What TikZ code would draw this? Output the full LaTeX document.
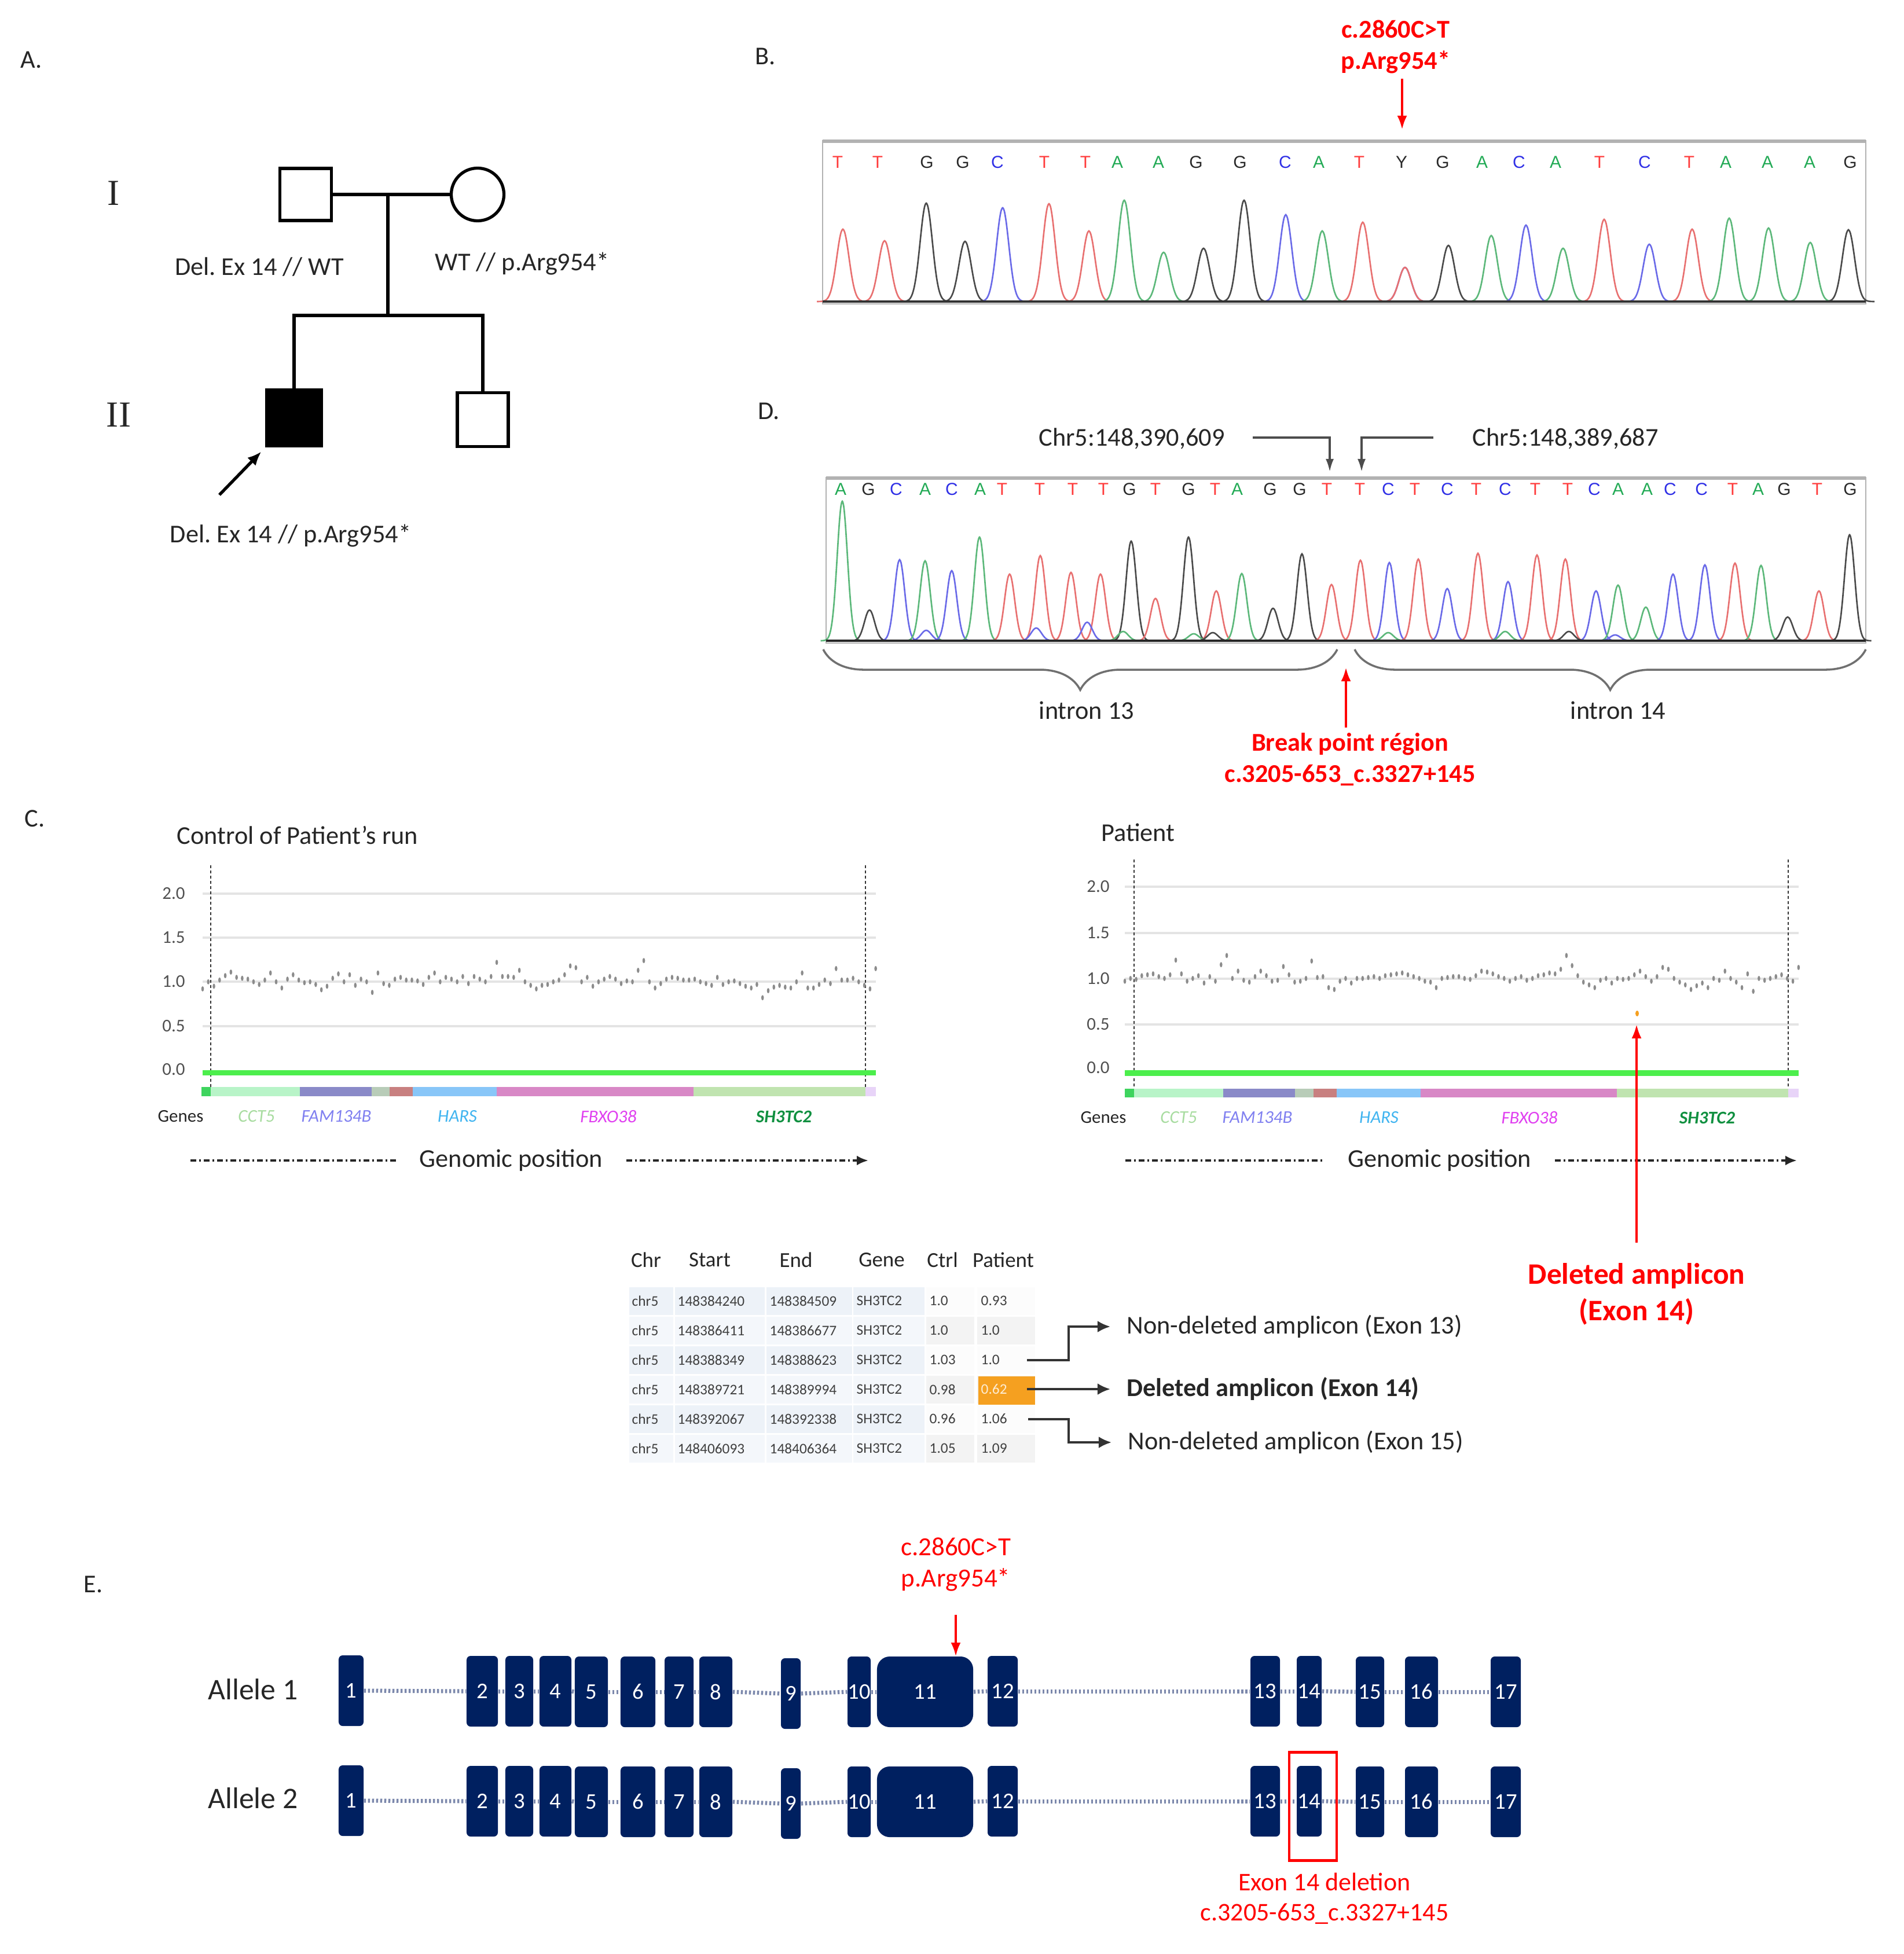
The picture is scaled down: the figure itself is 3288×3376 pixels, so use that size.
\documentclass[tikz,border=0pt]{standalone}
\usepackage{fontspec}
\setmainfont{Carlito}
\newfontfamily\serifR{Liberation Serif}
\newfontfamily\arialF{Liberation Sans}
\usetikzlibrary{arrows.meta,decorations.pathreplacing}
\frenchspacing
\definecolor{txt}{HTML}{262626}
\definecolor{navy}{HTML}{002060}
\definecolor{intronc}{HTML}{7C88AC}
\definecolor{trR}{HTML}{E87070}
\definecolor{trK}{HTML}{4A4A4A}
\definecolor{trB}{HTML}{6A6AE8}
\definecolor{trG}{HTML}{5CB87A}
\definecolor{ltR}{HTML}{FF3B3B}
\definecolor{ltK}{HTML}{2A2A2A}
\definecolor{ltB}{HTML}{3030E6}
\definecolor{ltG}{HTML}{22AA55}
\definecolor{gridc}{HTML}{E4E4E4}
\definecolor{greenbar}{HTML}{4CEE4C}
\definecolor{ptc}{HTML}{8C8C8C}
\definecolor{gDk}{HTML}{3ED45E}
\definecolor{gLg}{HTML}{B8F4C8}
\definecolor{gPu}{HTML}{8A8AC8}
\definecolor{gGg}{HTML}{B8CCB8}
\definecolor{gRb}{HTML}{C88080}
\definecolor{gLb}{HTML}{88C6F8}
\definecolor{gPk}{HTML}{D888C6}
\definecolor{gSg}{HTML}{C0E4B0}
\definecolor{gLv}{HTML}{E8D4F8}
\definecolor{nCC}{HTML}{A8DCA0}
\definecolor{nFA}{HTML}{8080F0}
\definecolor{nHA}{HTML}{40B4F0}
\definecolor{nFB}{HTML}{E040F0}
\definecolor{nSH}{HTML}{109040}
\definecolor{tbA}{HTML}{EDF2F8}
\definecolor{tbB}{HTML}{F4F7FB}
\definecolor{tbC}{HTML}{FCFCFC}
\definecolor{tbD}{HTML}{F3F3F3}
\definecolor{orng}{HTML}{F5A020}
\definecolor{brc}{HTML}{707070}
\definecolor{tick}{HTML}{505050}

\newcommand\pk[5]{%
  \pgfmathsetmacro\myPa{#1-3*#4}%
  \pgfmathsetmacro\myPb{#1+3*#4}%
  \draw[color=#5,trace] plot[domain=\myPa:\myPb,samples=31,smooth] (\x,{#2-#3*exp(-(((\x-#1)/#4)^2))});}

\tikzset{
  every node/.style={inner sep=0pt,text=txt},
  lbl/.style={font=\fontsize{12.6}{15.4}\selectfont},
  lblb/.style={font=\bfseries\fontsize{12.6}{15.4}\selectfont},
  redbold/.style={font=\bfseries\fontsize{12.6}{15.5}\selectfont,text=red,align=center},
  redreg/.style={font=\fontsize{12.8}{15.2}\selectfont,text=red,align=center},
  redbig/.style={font=\bfseries\fontsize{14.6}{17.8}\selectfont,text=red,align=center},
  roman/.style={font=\serifR\fontsize{18}{20}\selectfont},
  ped/.style={draw=black,line width=1.5pt,minimum width=0.89cm,minimum height=0.9cm},
  pedline/.style={line width=1.5pt},
  trace/.style={line width=0.75pt},
  base/.style={font=\arialF\fontsize{8.5}{9}\selectfont},
  darr/.style={draw=black!70,line width=0.9pt,-{Latex[length=0.22cm,width=0.14cm]}},
  redarrow/.style={draw=red,line width=1.2pt,-{Latex[length=0.24cm,width=0.17cm]}},
  brc/.style={draw=brc,line width=1pt,decorate,decoration={brace,mirror,amplitude=0.7cm}},
  ytk/.style={font=\fontsize{8.8}{10}\selectfont,text=tick},
  gene/.style={font=\itshape\fontsize{8.8}{10}\selectfont},
  grid line/.style={draw=gridc,line width=1pt},
  vdash/.style={draw=black!80,line width=0.6pt,dash pattern=on 0.05cm off 0.04cm},
  gpos/.style={draw=black!85,line width=1.1pt,dash pattern=on 0.1cm off 0.05cm on 0.03cm off 0.05cm},
  th/.style={font=\fontsize{10.5}{12}\selectfont},
  td/.style={font=\fontsize{7.2}{8}\selectfont,text=black!75,anchor=west},
  conn/.style={draw=black!80,line width=1pt,-{Latex[length=0.22cm,width=0.2cm]},shorten >=0.28cm},
  exon/.style={fill=navy,text=white,font=\fontsize{11}{12}\selectfont},
  intron/.style={draw=intronc,line width=2pt,dash pattern=on 0.035cm off 0.035cm},
  allele/.style={font=\fontsize{14.7}{16}\selectfont},
}

\begin{document}
\begin{tikzpicture}[x=0.01cm,y=-0.01cm]
\fill[white] (0,0) rectangle (3288,3376);
\useasboundingbox (0,0) rectangle (3288,3376);

%% ---------------- Panel A : pedigree
\node[lbl] (lA) at (54,103) {A.};
\node[roman] (gI) at (196,334) {I};
\node[roman] (gII) at (205,717) {II};
\node[ped] (fa) at (528,336) {};
\node[ped,circle,minimum size=0.91cm] (mo) at (825,336) {};
\node[ped,fill=black,minimum width=0.94cm,minimum height=0.97cm] (c1) at (508,722) {};
\node[ped,minimum width=0.88cm,minimum height=0.93cm] (c2) at (834,725) {};
\coordinate (mar) at (670,336);
\coordinate (sib) at (670,545);
\draw[pedline] (fa.east) -- (mo.west);
\draw[pedline] (mar) -- (sib);
\draw[pedline] (c1.north) |- (sib) -| (c2.north);
\coordinate (pa) at (379,855);
\draw[line width=1.5pt,-{Latex[length=0.24cm,width=0.2cm]},shorten >=0.1cm] (pa) -- (c1.south west);
\node[lbl] (gFa) at (448,461) {Del. Ex 14 // WT};
\node[lbl] (gMo) at (902,456) {WT // p.Arg954*};
\node[lbl] (gC1) at (502,926) {Del. Ex 14 // p.Arg954*};

%% ---------------- Panel B : chromatogram
\node[lbl] (lB) at (1322,97) {B.};
\node[redbold] (mutB) at (2411,81) {c.2860C>T\\p.Arg954*};
\coordinate (bA) at (2422,136);
\coordinate (bB) at (2422,224);
\draw[redarrow] (bA) -- (bB);
\draw[gray!60,line width=0.6pt] (1421,243) rectangle (3223,525);
\draw[gray!60,line width=1.6pt] (1421,244) -- (3223,244);
\foreach \lx/\lt/\lc in {1447/T/ltR,1516/T/ltR,1601/G/ltK,1663/G/ltK,1723/C/ltB,1804/T/ltR,1875/T/ltR,1930/A/ltG,2001/A/ltG,2066/G/ltK,2142/G/ltK,2220/C/ltB,2278/A/ltG,2348/T/ltR,2421/Y/ltK,2492/G/ltK,2560/A/ltG,2624/C/ltB,2687/A/ltG,2763/T/ltR,2841/C/ltB,2918/T/ltR,2981/A/ltG,3053/A/ltG,3126/A/ltG,3196/G/ltK}
  \node[base,text=\lc] (b\lx) at (\lx,280) {\lt};
\foreach \px/\ph/\pc in {1456/125/trR,1528/105/trR,1600/170/trK,1667/104/trK,1732/162/trB,1812/169/trR,1881/122/trR,1942/175/trG,2010/85/trG,2079/92/trK,2149/175/trK,2221/150/trB,2284/122/trG,2354/137/trR,2427/59/trB,2427/59/trR,2502/97/trK,2576/114/trG,2636/132/trB,2700/92/trG,2771/142/trR,2849/99/trB,2923/125/trR,2987/144/trG,3055/127/trG,3127/102/trG,3193/124/trK}
  \pk{\px}{521}{\ph}{15}{\pc};
\draw[black!80,line width=1.3pt] (1421,521) -- (3223,521);

%% ---------------- Panel D : breakpoint chromatogram
\node[lbl] (lD) at (1328,710) {D.};
\node[lbl] (chrL) at (1955,758) {Chr5:148,390,609};
\node[lbl] (chrR) at (2704,758) {Chr5:148,389,687};
\coordinate (dL0) at (2164,756);
\coordinate (dL1) at (2297,815);
\coordinate (dR0) at (2476,756);
\coordinate (dR1) at (2352,815);
\draw[darr] (dL0) -| (dL1);
\draw[darr] (dR0) -| (dR1);
\draw[gray!60,line width=0.6pt] (1427,825) rectangle (3223,1111);
\draw[gray!60,line width=1.6pt] (1427,826) -- (3223,826);
\foreach \lx/\lt/\lc in {1452/A/ltG,1500/G/ltK,1548/C/ltB,1598/A/ltG,1644/C/ltB,1693/A/ltG,1731/T/ltR,1796/T/ltR,1853/T/ltR,1906/T/ltR,1951/G/ltK,1996/T/ltR,2053/G/ltK,2099/T/ltR,2137/A/ltG,2194/G/ltK,2245/G/ltK,2292/T/ltR,2349/T/ltR,2398/C/ltB,2444/T/ltR,2500/C/ltB,2550/T/ltR,2600/C/ltB,2652/T/ltR,2708/T/ltR,2754/C/ltB,2795/A/ltG,2845/A/ltG,2885/C/ltB,2939/C/ltB,2993/T/ltR,3037/A/ltG,3082/G/ltK,3139/T/ltR,3196/G/ltK}
  \node[base,text=\lc] (d\lx) at (\lx,845) {\lt};
\foreach \px/\ph/\pc in {1455/241/trG,1502/53/trK,1554/140/trB,1598/138/trG,1644/121/trB,1692/179/trG,1744/115/trR,1797/147/trR,1850/118/trR,1901/115/trR,1954/172/trK,1996/73/trR,2053/179/trK,2101/86/trR,2145/116/trG,2199/56/trK,2249/150/trK,2300/97/trR,2350/139/trR,2400/135/trB,2450/141/trR,2500/90/trB,2553/151/trR,2605/102/trB,2655/148/trR,2704/141/trR,2757/86/trB,2795/96/trG,2843/58/trG,2890/115/trB,2945/131/trB,2997/134/trR,3042/130/trG,3088/41/trK,3142/86/trR,3195/183/trK,1600/18/trB,1790/22/trB,1878/32/trB,1940/16/trG,2062/12/trG,2095/14/trK,2398/14/trG,2600/16/trG,2710/16/trK,2790/10/trB}
  \pk{\px}{1107}{\ph}{12.5}{\pc};
\draw[black!85,line width=1.3pt] (1427,1107) -- (3223,1107);
\draw[brc] (1422,1122) -- (2310,1122);
\draw[brc] (2340,1122) -- (3223,1122);
\node[lbl] (in13) at (1877,1227) {intron 13};
\node[lbl] (in14) at (2795,1227) {intron 14};
\coordinate (bpA) at (2325,1257);
\coordinate (bpB) at (2325,1153);
\draw[redarrow] (bpA) -- (bpB);
\node[redbold] (bpT) at (2332,1312) {Break point région\\c.3205-653\_c.3327+145};

%% ---------------- Panel C : plots
\node[lbl] (lC) at (60,1414) {C.};
\node[lbl] (tCtl) at (514,1443) {Control of Patient’s run};
\node[lbl] (tPat) at (1966,1438) {Patient};

% control plot
\foreach \v/\yy in {2.0/1544,1.5/1620,1.0/1696,0.5/1773} {
  \draw[grid line] (350,\yy) -- (1513,\yy);
  \node[ytk] (yc\v) at (300,\yy) {\v};
}
\node[ytk] (yc0) at (300,1848) {0.0};
\draw[vdash] (364,1495) -- (364,1894);
\draw[vdash] (1495,1495) -- (1495,1894);
\foreach \v [count=\i from 0] in {0.92,1.0,0.95,1.02,1.07,1.11,1.05,1.04,1.03,1.0,0.97,1.02,1.1,1.0,0.93,1.03,1.08,1.02,0.99,1.0,0.97,0.91,0.95,1.04,1.09,1.0,1.08,0.96,1.03,1.0,0.88,1.1,0.98,0.96,1.03,1.05,1.02,1.02,1.01,0.97,1.05,1.1,1.0,1.05,1.03,1.0,1.06,0.98,1.06,1.03,1.0,1.06,1.22,1.06,1.06,1.05,1.13,1.0,0.96,0.92,0.96,0.97,1.0,1.02,1.08,1.18,1.16,1.0,1.05,0.95,1.0,1.03,1.06,1.03,0.98,1.01,1.0,1.13,1.24,1.0,0.93,0.98,1.03,1.05,1.04,1.02,1.02,1.03,1.0,0.98,0.96,1.05,0.97,1.0,1.01,0.98,0.95,0.93,0.97,0.82,0.9,0.94,0.96,0.94,0.93,1.0,1.1,0.93,0.93,0.97,1.02,0.98,1.15,1.02,1.02,1.04,1.0,0.96,0.92,1.15}
  \fill[ptc] ({350+\i*9.77},{1849-152.7*\v}) ellipse [x radius=2.3,y radius=4.5];
\fill[greenbar] (350,1849) rectangle (1513,1858);
\foreach \a/\b/\c in {348/364/gDk,364/518/gLg,518/642/gPu,642/673/gGg,673/713/gRb,713/858/gLb,858/1198/gPk,1198/1495/gSg,1495/1513/gLv}
  \fill[\c] (\a,1878) rectangle (\b,1894);
\node[font=\fontsize{8.8}{10}\selectfont] (gnC) at (312,1929) {Genes};
\node[gene,text=nCC] (g1C) at (443,1929) {CCT5};
\node[gene,text=nFA] (g2C) at (581,1929) {FAM134B};
\node[gene,text=nHA] (g3C) at (790,1929) {HARS};
\node[gene,text=nFB] (g4C) at (1051,1929) {FBXO38};
\node[gene,text=nSH,font=\bfseries\itshape\fontsize{8.8}{10}\selectfont] (g5C) at (1354,1929) {SH3TC2};
\node[lbl] (gpC) at (883,2005) {Genomic position};
\coordinate (gpC0) at (329,2005);
\coordinate (gpC1) at (1500,2005);
\draw[gpos] (gpC0) -- ([xshift=-0.4cm]gpC.west);
\draw[gpos,-{Latex[length=0.2cm,width=0.17cm]}] ([xshift=0.4cm]gpC.east) -- (gpC1);

% patient plot
\foreach \v/\yy in {2.0/1532,1.5/1612,1.0/1691,0.5/1770} {
  \draw[grid line] (1943,\yy) -- (3107,\yy);
  \node[ytk] (yp\v) at (1897,\yy) {\v};
}
\node[ytk] (yp0) at (1897,1845) {0.0};
\draw[vdash] (1959,1485) -- (1959,1896);
\draw[vdash] (3089,1485) -- (3089,1896);
\foreach \v [count=\i from 0] in {0.97,1.0,0.99,1.03,1.04,1.05,1.02,1.0,1.04,1.2,1.05,0.97,1.0,1.03,0.95,1.02,0.97,1.15,1.25,1.0,1.08,0.98,0.96,1.02,1.08,1.03,0.97,0.98,1.13,1.04,0.96,0.97,1.0,1.19,1.01,1.02,0.9,0.88,0.97,1.0,0.95,1.0,1.0,1.01,1.02,1.0,1.03,1.04,1.05,1.06,1.04,1.02,1.0,0.97,0.96,0.9,1.0,1.01,1.02,1.02,1.0,0.99,1.03,1.08,1.07,1.05,1.02,1.0,0.97,1.0,1.02,0.98,1.0,1.03,1.04,1.06,1.05,1.1,1.25,1.14,1.03,0.96,0.93,0.9,0.98,1.0,0.95,1.0,0.99,1.0,1.04,1.08,1.02,0.97,1.02,1.12,1.1,1.0,0.96,0.93,0.88,0.92,0.95,0.9,1.0,0.98,1.08,1.0,0.96,0.9,1.05,0.86,1.0,0.98,1.0,1.02,1.04,1.0,0.97,1.12}
  \fill[ptc] ({1943+\i*9.78},{1849-158.5*\v}) ellipse [x radius=2.3,y radius=4.5];
\fill[orng] (2828,1751) ellipse [x radius=3,y radius=5];
\fill[greenbar] (1943,1849) rectangle (3107,1859);
\foreach \a/\b/\c in {1943/1959/gDk,1959/2113/gLg,2113/2237/gPu,2237/2269/gGg,2269/2309/gRb,2309/2454/gLb,2454/2793/gPk,2793/3089/gSg,3089/3107/gLv}
  \fill[\c] (\a,1881) rectangle (\b,1896);
\node[font=\fontsize{8.8}{10}\selectfont] (gnP) at (1906,1931) {Genes};
\node[gene,text=nCC] (g1P) at (2036,1931) {CCT5};
\node[gene,text=nFA] (g2P) at (2172,1931) {FAM134B};
\node[gene,text=nHA] (g3P) at (2382,1931) {HARS};
\node[gene,text=nFB] (g4P) at (2642,1931) {FBXO38};
\node[gene,text=nSH,font=\bfseries\itshape\fontsize{8.8}{10}\selectfont] (g5P) at (2949,1931) {SH3TC2};
\node[lbl] (gpP) at (2487,2005) {Genomic position};
\coordinate (gpP0) at (1944,2005);
\coordinate (gpP1) at (3104,2005);
\draw[gpos] (gpP0) -- ([xshift=-0.4cm]gpP.west);
\draw[gpos,-{Latex[length=0.2cm,width=0.17cm]}] ([xshift=0.4cm]gpP.east) -- (gpP1);

\node[redbig] (delAmp) at (2827,2236) {Deleted amplicon\\(Exon 14)};
\coordinate (daA) at (2827,2147);
\coordinate (daB) at (2827,1770);
\draw[draw=red,line width=1pt,-{Latex[length=0.24cm,width=0.17cm]}] (daA) -- (daB);

%% ---------------- table
\node[th] (hChr) at (1116,2177) {Chr};
\node[th] (hSt) at (1226,2177) {Start};
\node[th] (hEn) at (1375,2177) {End};
\node[th] (hGe) at (1523,2177) {Gene};
\node[th] (hCt) at (1628,2177) {Ctrl};
\node[th] (hPa) at (1733,2177) {Patient};
\foreach \r in {1,...,6} {
  \pgfmathsetmacro\ya{2222+51*(\r-1)+1.5}
  \pgfmathsetmacro\yb{2222+51*\r-1.5}
  \pgfmathtruncatemacro\odd{mod(\r,2)}
  \ifnum\odd=1 \def\ca{tbA}\def\cb{tbC}\else\def\ca{tbB}\def\cb{tbD}\fi
  \foreach \xa/\xb in {1087/1163,1166/1321,1324/1472,1474/1597}
    \fill[\ca] (\xa,\ya) rectangle (\xb,\yb);
  \foreach \xa/\xb in {1600/1683,1688/1788}
    \fill[\cb] (\xa,\ya) rectangle (\xb,\yb);
}
\fill[orng] (1690,2378) rectangle (1788,2427);
\foreach \r/\s/\e/\vc/\vp/\pc in {1/148384240/148384509/1.0/0.93/black!75,2/148386411/148386677/1.0/1.0/black!75,3/148388349/148388623/1.03/1.0/black!75,4/148389721/148389994/0.98/0.62/white!80!orng,5/148392067/148392338/0.96/1.06/black!75,6/148406093/148406364/1.05/1.09/black!75} {
  \pgfmathsetmacro\yc{2222+51*\r-25.5}
  \node[td] (t\r-1) at (1091,\yc) {chr5};
  \node[td] (t\r-2) at (1170,\yc) {\s};
  \node[td] (t\r-3) at (1329,\yc) {\e};
  \node[td] (t\r-4) at (1479,\yc) {SH3TC2};
  \node[td] (t\r-5) at (1605,\yc) {\vc};
  \node[td,text=\pc] (t\r-6) at (1694,\yc) {\vp};
}
\coordinate (t3e) at (1774,2350);
\coordinate (t4e) at (1774,2400);
\coordinate (t5e) at (1776,2452);
\node[lbl,anchor=west] (n13) at (1946,2292) {Non-deleted amplicon (Exon 13)};
\node[lblb,anchor=west] (n14) at (1946,2400) {Deleted amplicon (Exon 14)};
\node[lbl,anchor=west] (n15) at (1948,2492) {Non-deleted amplicon (Exon 15)};
\draw[conn] (t3e) -- ++(72,0) |- (n13.west);
\draw[conn] (t4e) -- (n14.west);
\draw[conn] (t5e) -- ++(70,0) |- (n15.west);

%% ---------------- Panel E : gene structure
\node[lbl] (lE) at (161,2737) {E.};
\node[redreg] (mutE) at (1651,2703) {c.2860C>T\\p.Arg954*};
\node[allele] (al1) at (437,2919) {Allele 1};
\node[allele] (al2) at (437,3107) {Allele 2};
\foreach \n/\a/\b/\dy/\rr in {1/585/628/0/0.07,2/806/860/1/0.07,3/873/921/1/0.07,4/932/987/1/0.07,5/993/1050/2/0.07,6/1072/1132/2/0.07,7/1148/1198/2/0.07,8/1208/1265/2/0.07,9/1349/1383/5/0.07,10/1464/1504/2/0.07,11/1515/1681/2/0.22,12/1706/1758/1/0.07,13/2160/2211/1/0.07,14/2240/2283/1/0.07,15/2342/2391/2/0.07,16/2427/2484/2/0.07,17/2575/2627/2/0.07} {
  \pgfmathsetmacro\exW{(\b-\a)/100}
  \node[exon,rounded corners=\rr cm,minimum width=\exW cm,minimum height=1.22cm] (A\n) at ({(\a+\b)/2},{2921+\dy}) {\n};
  \node[exon,rounded corners=\rr cm,minimum width=\exW cm,minimum height=1.22cm] (B\n) at ({(\a+\b)/2},{3111+\dy}) {\n};
}
\foreach \i in {1,...,16} {
  \pgfmathtruncatemacro\j{\i+1}
  \draw[intron] (A\i.east) -- (A\j.west);
  \draw[intron] (B\i.east) -- (B\j.west);
}
\coordinate (eA) at (1651,2790);
\coordinate (eB) at (1651,2862);
\draw[redarrow] (eA) -- (eB);
\node[draw=red,line width=1.3pt,minimum width=0.82cm,minimum height=1.87cm] (delbox) at (2268,3121) {};
\node[redreg,font=\fontsize{12.5}{14.8}\selectfont] (delE) at (2288,3280) {Exon 14 deletion\\c.3205-653\_c.3327+145};
\end{tikzpicture}
\end{document}
